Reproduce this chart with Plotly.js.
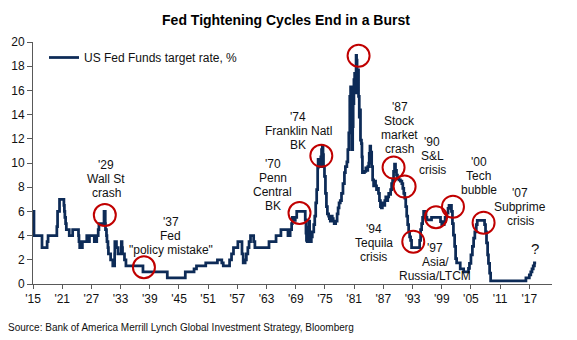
<!DOCTYPE html>
<html>
<head>
<meta charset="utf-8">
<script src="https://cdn.plot.ly/plotly-3.0.1.min.js"></script>
<style>html,body{margin:0;padding:0;background:#fff;}#chart{width:577px;height:340px;}</style>
</head>
<body>
<div id="chart"></div>
<script>
// ---- Data ----
const years = [
 1915.0,1915.2,1916.85,1917.9,1918.1,1919.9,1920.05,1920.45,1921.35,1921.45,1921.55,1921.7,1921.85,
 1922.45,1923.15,1924.35,1924.45,1924.6,1925.15,1926.05,1926.3,1926.6,1927.6,1928.1,1928.4,1928.55,
 1929.6,1929.85,1929.9,1930.1,1930.2,1930.4,1930.5,1930.95,1931.4,1931.78,1931.82,1932.15,1932.5,
 1933.15,1933.3,1933.4,1933.8,1934.1,1937.6,1942.6,1946.3,1948.1,1948.6,1950.5,1952.9,1953.8,1954.1,
 1955.4,1955.8,1956.2,1957.1,1957.95,1958.2,1958.6,1958.85,1959.15,1959.4,1959.7,1960.35,1960.6,
 1963.5,1964.95,1965.95,1967.4,1967.85,1968.15,1968.3,1968.6,1968.9,1969.2,
 1970.95,1971.1,1971.2,1971.35,1971.5,1971.7,1971.85,1972.0,1972.2,1972.4,1972.7,1972.9,
 1973.1,1973.3,1973.5,1973.6,1973.8,1974.0,1974.15,1974.3,1974.45,1974.6,1974.7,1974.9,
 1975.1,1975.3,1975.5,1975.75,1975.9,1976.1,1976.3,1976.5,1976.7,1976.9,1977.2,1977.5,1977.7,1977.9,
 1978.15,1978.4,1978.7,1979.0,1979.2,1979.5,1979.7,1979.9,1980.1,1980.27,1980.4,1980.5,1980.7,1980.8,
 1980.95,1981.1,1981.2,1981.4,1981.5,1981.6,1981.8,1981.9,1982.05,1982.2,1982.3,1982.5,1982.6,1982.7,
 1982.9,1983.1,1983.4,1983.6,1983.8,1984.0,1984.1,1984.25,1984.4,1984.6,1984.8,1985.0,1985.2,1985.4,
 1985.6,1985.8,1986.0,1986.2,1986.4,1986.6,1986.8,1987.0,1987.3,1987.5,1987.7,1987.9,1988.1,1988.3,
 1988.5,1988.7,1988.9,1989.1,1989.3,1989.5,1989.7,1989.9,1990.2,1990.5,1990.8,1991.0,1991.2,1991.4,
 1991.6,1991.8,1992.0,1992.2,1992.4,1992.6,1992.8,1994.46,1994.66,1994.87,1995.07,1995.28,1995.55,
 1995.76,1995.96,1996.9,1998.75,1999.0,1999.5,1999.7,2000.0,2000.3,2000.5,2001.0,2001.2,2001.4,
 2001.65,2001.85,2002.06,2002.8,2003.5,2004.5,2004.7,2005.0,2005.3,2005.55,2005.8,2006.1,2006.3,
 2007.8,2008.0,2008.2,2008.43,2008.6,2008.84,2009.05,2016.3,2017.0,2017.3,2017.55,2017.8,2018.05,2018.3,2018.4
];
const rates = [
 6,4,3,3.5,4,4.75,6,7,6.5,6,5.5,5,4.5,
 4,4.5,4,3.5,3,3.5,4,3.5,4,3.5,4,4.5,5,
 6,5,4.5,4,3.5,3,2.5,2,1.5,2.5,3.5,3,2.5,
 3.5,3,2.5,2,1.5,1,0.5,1,1.25,1.5,1.75,2,1.75,1.5,
 2,2.5,3,3.5,2.5,1.75,2,2.5,3,3.5,4,3.5,3,
 3.5,4,4.5,4,4.5,5,5.5,5.25,5.5,6,
 5.3,4.2,3.6,3.5,4.7,5.2,4.2,3.5,3.9,4.3,4.9,5.6,
 6.7,7.8,9.6,10.3,10.0,9.7,10.5,11.1,11.4,10.7,9.7,8.9,
 7.5,6.4,5.8,5.6,5.4,5.2,5.6,5.4,5.2,5.0,5.2,5.8,6.3,6.7,
 6.9,7.5,8.3,9.2,9.7,10.1,11.1,12.5,15.5,16.3,13.9,11.1,13.0,14.9,
 16.9,17.4,15.8,18.9,18.5,16.6,17.7,15.5,13.8,14.4,11.9,11.6,10.5,9.2,
 9.2,9.3,9.6,9.4,9.7,10.0,10.8,11.4,10.9,9.7,8.6,8.1,8.5,8.1,
 7.8,7.9,7.5,6.9,6.4,6.3,6.7,6.5,6.9,7.2,6.9,7.2,7.5,7.4,
 7.8,8.3,8.6,9.3,9.9,9.4,9.0,8.7,8.6,8.5,8.3,7.9,7.5,7.1,
 6.4,5.6,4.9,4.3,3.9,3.6,3.0,3.6,4.5,5.0,5.5,6.0,5.9,
 5.5,5.3,5.5,5.15,4.9,5.15,5.5,5.85,6.26,6.5,6.0,5.0,4.05,
 3.1,2.1,1.75,1.25,1.0,1.3,1.7,2.4,3.1,3.8,4.3,4.9,5.25,
 4.9,4.3,3.4,2.4,1.7,0.9,0.25,0.5,0.75,1.0,1.25,1.5,1.75,1.75,1.75
];
const seriesName = 'US Fed Funds target rate, %';
const tickYears = [1915,1921,1927,1933,1939,1945,1951,1957,1963,1969,1975,1981,1987,1993,1999,2005,2011,2017];
const tickLabels = ["'15","'21","'27","'33","'39","'45","'51","'57","'63","'69","'75","'81","'87","'93","'99","'05","'11","'17"];

// Red circles marking the end of each tightening cycle
const circleYears  = [1929.76,1937.8,1969.77,1974.25,1981.91,1989.1,1991.37,1993.15,1997.82,2001.31,2007.6];
const circleValues = [5.7,1.38,5.87,10.59,18.86,9.62,8.05,3.5,5.52,6.39,5.07];

// Event labels (position of the first text line, in data units)
const labelYears  = [1930.06,1943.32,1964.28,1969.52,1974.93,1990.32,1997.0,2006.58,2015.14,1985.0,1997.68];
const labelValues = [9.84,5.10,9.90,13.79,20.26,14.62,11.77,10.12,7.50,4.52,2.95];
const labelTexts = [
 ["'29","Wall St","crash"],
 ["'37","Fed","\"policy mistake\""],
 ["'70","Penn","Central","BK"],
 ["'74","Franklin Natl","BK"],
 ["'82","LatAm","debt"],
 ["'87","Stock","market","crash"],
 ["'90","S&L","crisis"],
 ["'00","Tech","bubble"],
 ["'07","Subprime","crisis"],
 ["'94","Tequila","crisis"],
 ["'97","Asia/","Russia/LTCM"]
];
const questionYear = 2018.12, questionValue = 2.95;

// ---- Build chart ----
const FONT = 'Liberation Sans, Arial, Helvetica, sans-serif';
const NAVY = '#0D2B57';
const RED = '#C00000';
const AXIS = '#595959';

const trace = {
  x: years, y: rates, type: 'scatter', mode: 'lines', name: seriesName,
  line: {color: NAVY, width: 2.75, shape: 'hv'}, hoverinfo: 'skip'
};

const shapes = circleYears.map((yr, i) => ({
  type: 'circle', xref: 'x', yref: 'y', xsizemode: 'pixel', ysizemode: 'pixel',
  xanchor: yr, yanchor: circleValues[i], x0: -11, x1: 11, y0: -11, y1: 11,
  line: {color: RED, width: 2}, fillcolor: 'rgba(0,0,0,0)', layer: 'above'
}));

const annotations = [];
labelTexts.forEach((lines, i) => {
  lines.forEach((t, j) => {
    annotations.push({
      x: labelYears[i], y: labelValues[i], xref: 'x', yref: 'y', text: t, showarrow: false,
      xanchor: 'center', yanchor: 'middle', yshift: -14 * j,
      font: {family: FONT, size: 12, color: '#111111'}
    });
  });
});
annotations.push({x: questionYear, y: questionValue, xref: 'x', yref: 'y', text: '?', showarrow: false,
  xanchor: 'center', yanchor: 'middle', font: {family: FONT, size: 15, color: '#111111'}});
annotations.push({x: (6 - 33) / 519, y: (284 - 327) / 242, xref: 'paper', yref: 'paper',
  text: 'Source: Bank of America Merrill Lynch Global Investment Strategy, Bloomberg',
  showarrow: false, xanchor: 'left', yanchor: 'middle', font: {family: FONT, size: 10, color: '#111111'}});

const layout = {
  width: 577, height: 340,
  margin: {l: 33, r: 25, t: 42, b: 56, pad: 0},
  paper_bgcolor: '#ffffff', plot_bgcolor: '#ffffff',
  font: {family: FONT, size: 12, color: '#111111'},
  title: {text: '<b>Fed Tightening Cycles End in a Burst</b>', font: {family: FONT, size: 14, color: '#000000'},
    xref: 'container', x: 286 / 577, xanchor: 'center', yref: 'container', y: 1 - 20 / 340, yanchor: 'middle'},
  xaxis: {range: [1915, 2021.66], tickmode: 'array', tickvals: tickYears, ticktext: tickLabels,
    ticks: 'outside', ticklen: 4, tickwidth: 1, tickcolor: AXIS, showline: true, linecolor: AXIS, linewidth: 1,
    showgrid: false, zeroline: false, tickfont: {family: FONT, size: 12, color: '#111111'}, fixedrange: true},
  yaxis: {range: [0, 20], tickmode: 'linear', tick0: 0, dtick: 2,
    ticks: 'outside', ticklen: 5, tickwidth: 1, tickcolor: AXIS, showline: true, linecolor: AXIS, linewidth: 1,
    showgrid: false, zeroline: false, tickfont: {family: FONT, size: 12, color: '#111111'}, fixedrange: true},
  showlegend: true,
  legend: {x: (44 - 33) / 519, y: (284 - 43) / 242, xanchor: 'left', yanchor: 'top',
    bgcolor: 'rgba(0,0,0,0)', font: {family: FONT, size: 12, color: '#111111'}},
  shapes: shapes,
  annotations: annotations
};

Plotly.newPlot('chart', [trace], layout, {staticPlot: true, displayModeBar: false});
</script>
</body>
</html>
